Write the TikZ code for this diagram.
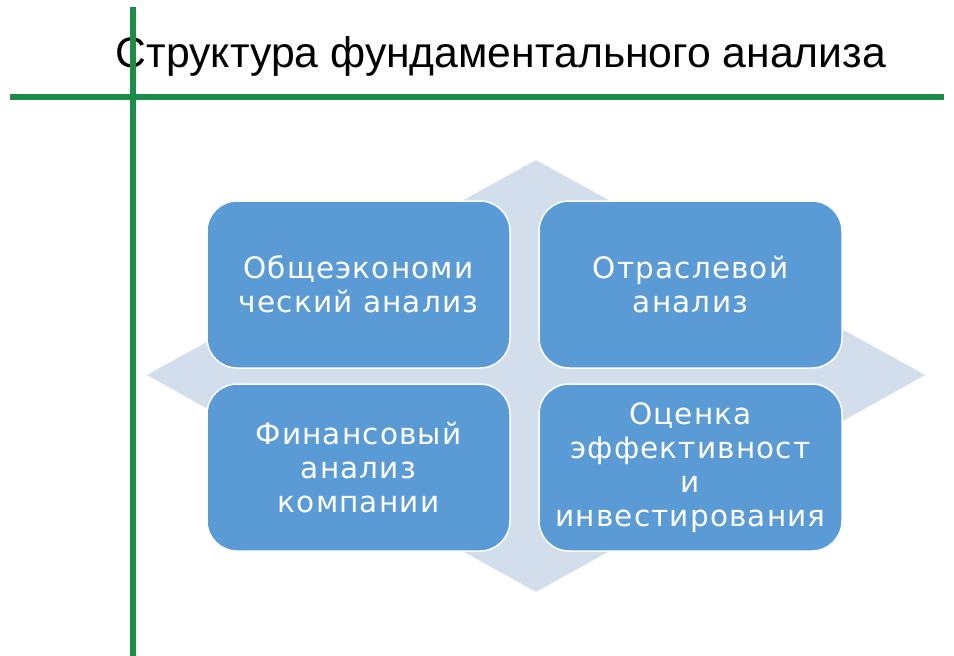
\documentclass[tikz,border=0pt]{standalone}
\usepackage{fontspec}
\setmainfont{Liberation Sans}
\newfontfamily\boxfont{DejaVu Sans}[LetterSpace=4]
\definecolor{gline}{RGB}{28,140,72}
\definecolor{boxblue}{RGB}{91,155,213}
\definecolor{diam}{RGB}{210,222,236}
\tikzset{
  quad/.style={draw=white, line width=1.5pt, fill=boxblue, rounded corners=30pt,
    minimum width=303pt, minimum height=167pt, inner sep=0pt, text=white,
    align=center, font=\boxfont\fontsize{29.5}{34}\selectfont},
  rule/.style={draw=gline, line width=6pt}
}
\begin{document}
\begin{tikzpicture}[x=1pt,y=-1pt]
\useasboundingbox (0,0) rectangle (954,656);
\fill[white] (0,0) rectangle (954,656);
% diamond background
\fill[diam] (536,160) -- (925,375) -- (536,592) -- (147,375) -- cycle;
% title
\node[anchor=base, font=\fontsize{42.7}{50}\selectfont, inner sep=0pt] (title) at (501,67) {Структура фундаментального анализа};
% green rules
\coordinate (vtop) at (133,7);
\coordinate (vbot) at (133,656);
\coordinate (hl) at (10,97);
\coordinate (hr) at (944,97);
\draw[rule] (vtop) -- (vbot);
\draw[rule] (hl) -- (hr);
% boxes
\node[quad] (tl) at (358.5,284.5) {Общеэкономи\\ческий анализ};
\node[quad] (tr) at (690.5,284.5) {Отраслевой\\анализ};
\node[quad] (bl) at (358.5,467.5) {Финансовый\\анализ\\компании};
\node[quad] (br) at (690.5,467.5) {Оценка\\эффективност\\и\\инвестирования};
\end{tikzpicture}
\end{document}
